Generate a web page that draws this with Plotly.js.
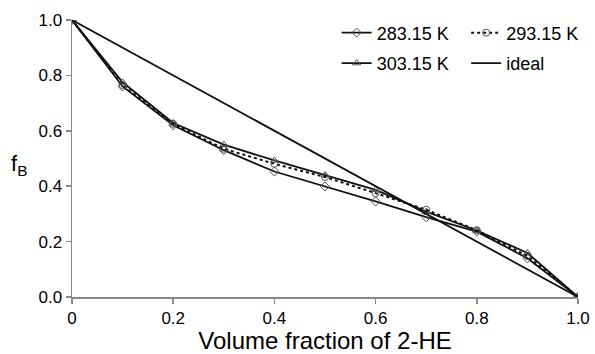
<!DOCTYPE html>
<html>
<head>
<meta charset="utf-8">
<script src="https://cdn.plot.ly/plotly-3.0.1.min.js"></script>
<style>html,body{margin:0;padding:0;background:#fff;}#chart{width:595px;height:354px;}</style>
</head>
<body>
<div id="chart"></div>
<script>
const volumeFraction = [0, 0.1, 0.2, 0.3, 0.4, 0.5, 0.6, 0.7, 0.8, 0.9, 1.0];
const fB_283 = [1.0, 0.760, 0.620, 0.530, 0.453, 0.399, 0.345, 0.288, 0.236, 0.140, 0.0];
const fB_293 = [1.0, 0.765, 0.625, 0.535, 0.481, 0.433, 0.375, 0.315, 0.241, 0.148, 0.0];
const fB_303 = [1.0, 0.775, 0.628, 0.550, 0.493, 0.440, 0.387, 0.308, 0.240, 0.159, 0.0];
const idealX = [0, 1.0];
const idealY = [1.0, 0.0];
const xTickVals = [0, 0.2, 0.4, 0.6, 0.8, 1.0];
const xTickText = ['0', '0.2', '0.4', '0.6', '0.8', '1.0'];
const yTickVals = [0, 0.2, 0.4, 0.6, 0.8, 1.0];
const yTickText = ['0.0', '0.2', '0.4', '0.6', '0.8', '1.0'];

const FONT = 'Liberation Sans, Arial, sans-serif';
const mk = (sym) => ({symbol: sym, size: 7, color: '#555', line: {color: '#555', width: 1}});

const data = [
  {x: volumeFraction, y: fB_283, name: '283.15 K', mode: 'lines+markers', line: {color: '#111', width: 1.8}, marker: mk('diamond-open'), legend: 'legend', legendgroup: 'a'},
  {x: volumeFraction, y: fB_303, name: '303.15 K', mode: 'lines+markers', line: {color: '#111', width: 1.8}, marker: mk('triangle-up-open'), legend: 'legend', legendgroup: 'b'},
  {x: volumeFraction, y: fB_293, name: '293.15 K', mode: 'lines+markers', line: {color: '#111', width: 2, dash: 'dot'}, marker: mk('circle-open'), legend: 'legend2', legendgroup: 'c'},
  {x: idealX, y: idealY, name: 'ideal', mode: 'lines', line: {color: '#111', width: 1.8}, legend: 'legend2', legendgroup: 'd'}
];

const legendCommon = {
  font: {family: FONT, size: 18, color: '#000'},
  bgcolor: 'rgba(0,0,0,0)', borderwidth: 0,
  traceorder: 'grouped', tracegroupgap: 4,
  xanchor: 'left', yanchor: 'top', itemwidth: 30
};

const layout = {
  width: 595, height: 354,
  margin: {l: 72, r: 11, t: 20, b: 56.5},
  paper_bgcolor: '#fff', plot_bgcolor: '#fff',
  font: {family: FONT, color: '#000'},
  showlegend: true,
  legend: Object.assign({}, legendCommon, {x: 0.523, y: 1.02}),
  legend2: Object.assign({}, legendCommon, {x: 0.779, y: 1.02}),
  xaxis: {
    range: [0, 1.0], tickvals: xTickVals, ticktext: xTickText,
    showgrid: false, zeroline: false, showline: true, linecolor: '#888', linewidth: 1.5,
    ticks: 'outside', ticklen: 5, tickcolor: '#888', tickwidth: 1.5,
    ticklabeloverflow: 'allow',
    tickfont: {family: FONT, size: 17, color: '#000'},
    title: {text: 'Volume fraction of 2-HE', font: {family: FONT, size: 24, color: '#000'}, standoff: 9}
  },
  yaxis: {
    range: [0, 1.0], tickvals: yTickVals, ticktext: yTickText,
    showgrid: false, zeroline: false, showline: true, linecolor: '#888', linewidth: 1.5,
    ticks: 'outside', ticklen: 5, tickcolor: '#888', tickwidth: 1.5,
    tickfont: {family: FONT, size: 17, color: '#000'}
  },
  annotations: [{
    text: 'f<sub>B</sub>', xref: 'paper', yref: 'paper', x: -0.105, y: 0.475,
    xanchor: 'center', yanchor: 'middle', showarrow: false,
    font: {family: FONT, size: 22, color: '#000'}
  }]
};

Plotly.newPlot('chart', data, layout, {displayModeBar: false, staticPlot: true});
</script>
</body>
</html>
